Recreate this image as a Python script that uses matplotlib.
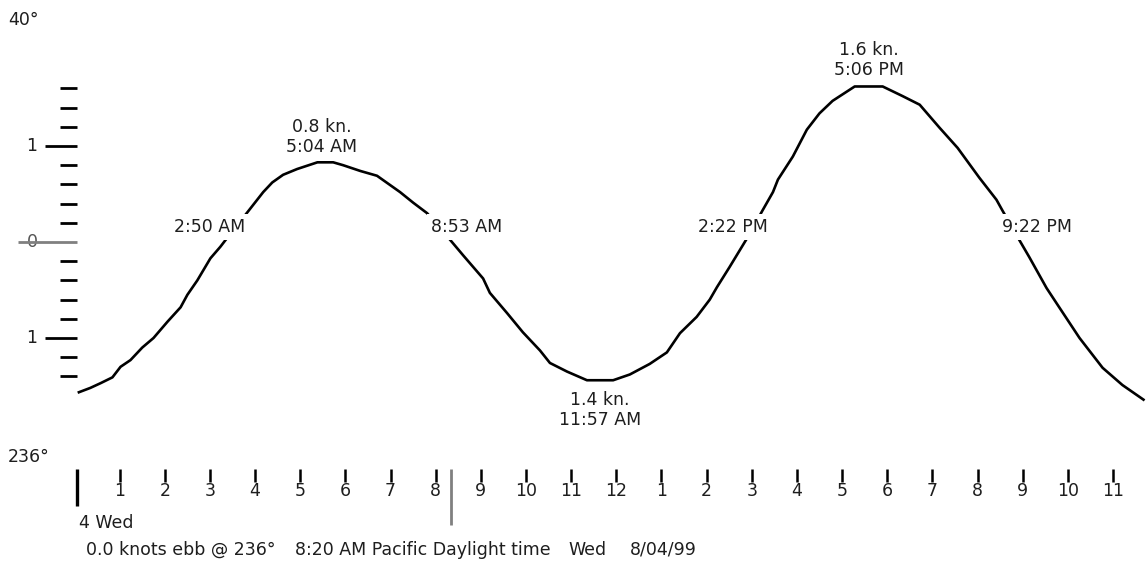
import matplotlib
matplotlib.use("Agg")
import matplotlib.pyplot as plt

# ---------------- data ----------------
hours = [0.07, 0.35, 0.58, 0.84, 1.02, 1.24, 1.50, 1.75, 2.06, 2.35, 2.50, 2.72,
         3.01, 3.23, 3.41, 3.83, 4.18, 4.38, 4.62, 4.93, 5.38, 5.73, 5.95, 6.33,
         6.70, 7.21, 7.50, 7.81, 8.27, 8.61, 9.05, 9.20, 9.58, 9.93, 10.31, 10.53,
         10.91, 11.35, 11.93, 12.30, 12.74, 13.12, 13.41, 13.78, 14.07, 14.23,
         14.51, 14.91, 15.24, 15.47, 15.58, 15.91, 16.22, 16.50, 16.79, 17.28,
         17.90, 18.34, 18.72, 19.16, 19.56, 20.04, 20.42, 20.55, 20.89, 21.15,
         21.53, 21.81, 22.26, 22.77, 23.21, 23.70]
knots = [-1.57, -1.52, -1.47, -1.41, -1.30, -1.23, -1.10, -1.00, -0.83, -0.68,
         -0.55, -0.40, -0.17, -0.05, 0.06, 0.31, 0.52, 0.62, 0.70, 0.76, 0.83,
         0.83, 0.80, 0.74, 0.69, 0.52, 0.41, 0.30, 0.05, -0.14, -0.38, -0.53,
         -0.74, -0.94, -1.13, -1.26, -1.35, -1.44, -1.44, -1.38, -1.27, -1.15,
         -0.95, -0.78, -0.60, -0.47, -0.26, 0.05, 0.33, 0.52, 0.65, 0.89, 1.17,
         1.34, 1.47, 1.62, 1.62, 1.52, 1.43, 1.19, 0.98, 0.67, 0.44, 0.33, 0.05,
         -0.16, -0.48, -0.68, -1.00, -1.31, -1.49, -1.65]

hour_ticks = list(range(1, 24))
hour_labels = ["1", "2", "3", "4", "5", "6", "7", "8", "9", "10", "11", "12",
               "1", "2", "3", "4", "5", "6", "7", "8", "9", "10", "11"]
knot_minor = [1.6, 1.4, 1.2, 0.8, 0.6, 0.4, 0.2, -0.2, -0.4, -0.6, -0.8,
              -1.2, -1.4]
knot_major = [1.0, -1.0]
knot_major_labels = ["1", "1"]
now_hour = 8 + 20 / 60

peak_labels = ["0.8 kn.\n5:04 AM", "1.4 kn.\n11:57 AM", "1.6 kn.\n5:06 PM"]
slack_labels = ["2:50 AM", "8:53 AM", "2:22 PM", "9:22 PM"]

# ---------------- layout ----------------
W, H = 1146, 561
X0, XS = 74.5, 45.15     # pixel of midnight, pixels per hour
Y0, YS = 242.0, 96.0     # pixel of zero knots, pixels per knot
FS = 12.5
TXT = "#1e1e1e"

fig = plt.figure(figsize=(W / 100, H / 100), dpi=100)
fig.patch.set_facecolor("white")
ax = fig.add_axes([0, 0, 1, 1])
ax.set_xlim(-X0 / XS, (W - X0) / XS)
ax.set_ylim((Y0 - H) / YS, Y0 / YS)
ax.axis("off")


def dx(px):
    return (px - X0) / XS


def dy(py):
    return (Y0 - py) / YS


def ftext(px, py, s, **kw):
    kw.setdefault("fontsize", FS)
    kw.setdefault("color", TXT)
    return fig.text(px / W, 1 - py / H, s, **kw)


# current curve
ax.plot(hours, knots, color="black", lw=1.9, solid_capstyle="butt",
        solid_joinstyle="round", zorder=2)

# knot scale (left)
ax.hlines(knot_minor, dx(60), dx(77.5), color="black", lw=2.0, zorder=3)
ax.hlines(knot_major, dx(45), dx(77.5), color="black", lw=2.0, zorder=3)
ax.text(dx(32), 0.0, "0", ha="center", va="center", fontsize=FS,
        color="#555555", zorder=2)
ax.hlines([0.0], dx(18), dx(77.5), color="#808080", lw=2.0, zorder=3)
for v, lab in zip(knot_major, knot_major_labels):
    ax.text(dx(32), v, lab, ha="center", va="center", fontsize=FS, color=TXT)

# hour scale (bottom)
ax.vlines(hour_ticks, dy(482), dy(469), color="black", lw=1.8)
for hh, lab in zip(hour_ticks, hour_labels):
    ax.text(hh, dy(491), lab, ha="center", va="center", fontsize=FS, color=TXT)
ax.vlines([0.05], dy(506), dy(469), color="black", lw=2.4)
ax.vlines([now_hour], dy(525), dy(469), color="#808080", lw=2.0)

# event labels (slack and max currents)
bb = dict(facecolor="white", edgecolor="none", pad=3.0)
for (px, py), lab in zip([(210, 227), (467, 227), (733, 227), (1037, 227)],
                         slack_labels):
    ftext(px, py, lab, ha="center", va="center", bbox=bb, zorder=5)
for (px, py), lab in zip([(322, 137), (600, 410), (869, 60)], peak_labels):
    ftext(px, py, lab, ha="center", va="center", linespacing=1.2)

# corner / footer texts
ftext(8, 20, "40°", ha="left", va="center")
ftext(8, 457, "236°", ha="left", va="center")
ftext(79, 523, "4 Wed", ha="left", va="center")
ftext(86, 550, "0.0 knots ebb @ 236°", ha="left", va="center")
ftext(295, 550, "8:20 AM Pacific Daylight time", ha="left", va="center")
ftext(568, 550, "Wed", ha="left", va="center")
ftext(630, 550, "8/04/99", ha="left", va="center")

fig.savefig("out.png", dpi=100, facecolor="white")
